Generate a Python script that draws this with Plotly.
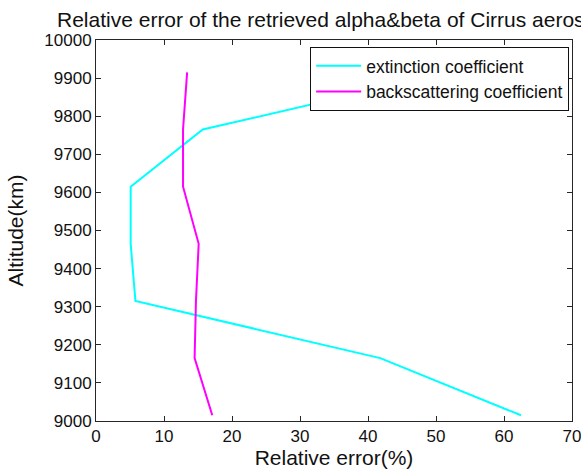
import plotly.graph_objects as go

# Altitude levels (m, labelled km on the axis) and relative errors (%)
altitude = [9015, 9165, 9315, 9465, 9615, 9765, 9915]
ext_error = [62.5, 41.8, 5.8, 5.1, 5.1, 15.7, 52.0]
back_error = [17.1, 14.5, 14.7, 15.1, 12.8, 12.8, 13.4]

x_ticks = [0, 10, 20, 30, 40, 50, 60, 70]
y_ticks = list(range(9000, 10001, 100))
y_tick_text = [str(v) for v in y_ticks]

W, H = 581, 470
ml, mr, mt, mb = 96, 9, 40, 49
FONT = "Liberation Sans, Arial"
INK = "#111111"

fig = go.Figure()
fig.add_trace(go.Scatter(x=ext_error, y=altitude, mode="lines",
                         name="extinction coefficient",
                         line=dict(color="#00FFFF", width=2)))
fig.add_trace(go.Scatter(x=back_error, y=altitude, mode="lines",
                         name="backscattering coefficient",
                         line=dict(color="#FF00FF", width=2)))

axis_common = dict(showline=True, linecolor="#262626", linewidth=1,
                   mirror="ticks", ticks="inside", ticklen=5,
                   tickcolor="#262626", showgrid=False, zeroline=False,
                   ticklabeloverflow="allow", automargin=False,
                   tickfont=dict(family=FONT, size=17, color=INK))

fig.update_xaxes(range=[0, 70], tickvals=x_ticks,
                 title=dict(text="Relative error(%)", standoff=4,
                            font=dict(family=FONT, size=21, color=INK)),
                 **axis_common)
fig.update_yaxes(range=[9000, 10000], tickvals=y_ticks, ticktext=y_tick_text,
                 title=dict(text="Altitude(km)", standoff=14,
                            font=dict(family=FONT, size=21, color=INK)),
                 **axis_common)

plot_w = W - ml - mr
fig.add_annotation(text="Relative error of the retrieved alpha&beta of Cirrus aerosol",
                   xref="paper", yref="paper",
                   x=(55 - ml) / plot_w, y=1.0, yshift=7,
                   xanchor="left", yanchor="bottom", showarrow=False,
                   font=dict(family=FONT, size=21, color=INK))

fig.update_layout(
    width=W, height=H,
    margin=dict(l=ml, r=mr, t=mt, b=mb, autoexpand=False),
    paper_bgcolor="white", plot_bgcolor="white",
    showlegend=True,
    legend=dict(x=0.994, y=0.982, xanchor="right", yanchor="top",
                bgcolor="white", bordercolor=INK, borderwidth=1,
                font=dict(family=FONT, size=17.5, color=INK),
                itemwidth=45, tracegroupgap=0),
)

fig.write_html("out.html")
